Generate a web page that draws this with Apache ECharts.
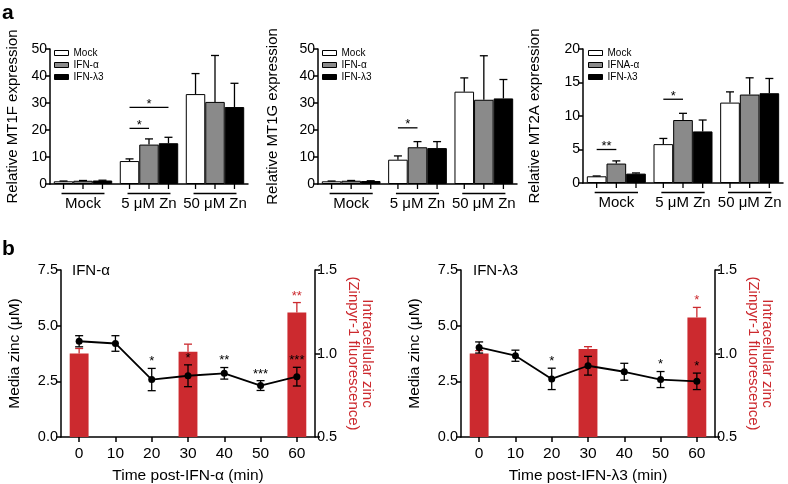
<!DOCTYPE html>
<html><head><meta charset="utf-8">
<script src="https://cdn.jsdelivr.net/npm/echarts@6/dist/echarts.min.js"></script>
<style>html,body{margin:0;padding:0;background:#fff}#c{width:788px;height:484px}</style>
</head><body><div id="c"></div>
<script>
// ---------- DATA ----------
const groupLabels = ['Mock', '5 μM Zn', '50 μM Zn'];
const legendA12 = ['Mock', 'IFN-α', 'IFN-λ3'];
const legendA3 = ['Mock', 'IFNA-α', 'IFN-λ3'];
const mtYTicks = [0, 10, 20, 30, 40, 50];
const mt2aYTicks = [0, 5, 10, 15, 20];

const mt1fMock = [1.0, 8.5, 33.3];
const mt1fMockErr = [0.1, 0.8, 7.6];
const mt1fIfna = [1.2, 14.6, 30.4];
const mt1fIfnaErr = [0.1, 2.1, 17.2];
const mt1fL3 = [1.3, 15.1, 28.5];
const mt1fL3Err = [0.1, 2.2, 8.8];
const mt1fSig = [{group: 1, from: 0, to: 2, level: 28.4, text: '*'}, {group: 1, from: 0, to: 1, level: 20.6, text: '*'}];

const mt1gMock = [1.0, 9.0, 34.2];
const mt1gMockErr = [0.1, 1.4, 5.1];
const mt1gIfna = [1.2, 13.6, 31.2];
const mt1gIfnaErr = [0.1, 2.1, 16.3];
const mt1gL3 = [1.1, 13.3, 31.7];
const mt1gL3Err = [0.1, 2.4, 7.0];
const mt1gSig = [{group: 1, from: 0, to: 1, level: 20.8, text: '*'}];

const mt2aMock = [1.0, 5.8, 12.0];
const mt2aMockErr = [0.05, 0.85, 1.6];
const mt2aIfna = [2.9, 9.4, 13.2];
const mt2aIfnaErr = [0.4, 1.0, 2.5];
const mt2aL3 = [1.4, 7.7, 13.4];
const mt2aL3Err = [0.1, 1.7, 2.2];
const mt2aSig = [{group: 0, from: 0, to: 1, level: 5.0, text: '**'}, {group: 1, from: 0, to: 1, level: 12.5, text: '*'}];

const timeLabels = ['0', '10', '20', '30', '40', '50', '60'];
const zincTicks = [0, 2.5, 5.0, 7.5];
const fluorTicks = [0.5, 1.0, 1.5];

const alphaZinc = [4.30, 4.20, 2.58, 2.75, 2.86, 2.31, 2.71];
const alphaZincErr = [0.25, 0.35, 0.50, 0.49, 0.26, 0.22, 0.42];
const alphaZincSig = ['', '', '*', '*', '**', '***', '***'];
const alphaFluor = [1.00, null, null, 1.01, null, null, 1.245];
const alphaFluorErr = [0.03, null, null, 0.046, null, null, 0.06];
const alphaFluorSig = ['', '', '', '', '', '', '**'];

const l3Zinc = [4.02, 3.65, 2.61, 3.20, 2.93, 2.58, 2.50];
const l3ZincErr = [0.25, 0.25, 0.48, 0.42, 0.38, 0.36, 0.37];
const l3ZincSig = ['', '', '*', '', '', '*', '*'];
const l3Fluor = [1.00, null, null, 1.027, null, null, 1.216];
const l3FluorErr = [0.017, null, null, 0.014, null, null, 0.06];
const l3FluorSig = ['', '', '', '', '', '', '*'];

// ---------- STYLE ----------
const FONT = '"Liberation Sans", Arial, Helvetica, sans-serif';
const RED = '#cc2a2f';
const FILLS = ['#ffffff', '#8a8a8a', '#000000'];
const BAR_FRAC = 0.295;
const AXLINE = {show: true, onZero: false, lineStyle: {color: '#000', width: 1.5}};
const AXTICK = {show: true, length: 5, lineStyle: {color: '#000', width: 1.5}};

const chart = echarts.init(document.getElementById('c'), null, {renderer: 'canvas'});

const grids = [], xAxes = [], yAxes = [], series = [], legends = [];

function starY(px, fs) { return px + 0.22 * fs; }

function barErrRender(params, api) {
  const cat = api.value(0), k = api.value(1), v = api.value(2), e = api.value(3);
  const band = api.size([1, 0])[0];
  const bw = band * BAR_FRAC;
  const base = api.coord([cat, 0]);
  const cx = base[0] + (k - 1) * bw;
  const yv = api.coord([cat, v])[1];
  const yt = api.coord([cat, v + e])[1];
  const st = {stroke: '#000', lineWidth: 1.3};
  return {type: 'group', children: [
    {type: 'line', shape: {x1: cx, y1: yv, x2: cx, y2: yt}, style: st},
    {type: 'line', shape: {x1: cx - 4, y1: yt, x2: cx + 4, y2: yt}, style: st},
    {type: 'line', shape: {x1: cx, y1: base[1], x2: cx, y2: base[1] + 5}, style: st}
  ]};
}
function underlineRender(params, api) {
  const cat = api.value(0);
  const band = api.size([1, 0])[0];
  const bw = band * BAR_FRAC;
  const base = api.coord([cat, 0]);
  const y = base[1] + 9.5;
  return {type: 'line', shape: {x1: base[0] - bw - 2, y1: y, x2: base[0] + bw + 2, y2: y},
    style: {stroke: '#000', lineWidth: 1.3}};
}
function bracketRender(sigs) {
  return function (params, api) {
    const s = sigs[params.dataIndex];
    const band = api.size([1, 0])[0];
    const bw = band * BAR_FRAC;
    const c = api.coord([s.group, s.level]);
    const x1 = c[0] + (s.from - 1) * bw, x2 = c[0] + (s.to - 1) * bw;
    return {type: 'group', children: [
      {type: 'line', shape: {x1: x1, y1: c[1], x2: x2, y2: c[1]}, style: {stroke: '#000', lineWidth: 1.3}},
      {type: 'text', x: (x1 + x2) / 2, y: starY(c[1] - 6, 13),
        style: {text: s.text, fill: '#000', font: '13px ' + FONT, align: 'center', verticalAlign: 'middle'}}
    ]};
  };
}

function aPanel(i, gridPos, yName, nameGap, names, vals, errs, ticks, sigs, legendPos) {
  grids.push(Object.assign({outerBoundsMode: 'none', containLabel: false}, gridPos));
  xAxes.push({type: 'category', gridIndex: i, data: groupLabels,
    axisLine: AXLINE, axisTick: {show: false},
    axisLabel: {color: '#000', fontSize: 15, margin: 12, interval: 0, fontFamily: FONT},
    splitLine: {show: false}});
  yAxes.push({type: 'value', gridIndex: i, min: ticks[0], max: ticks[ticks.length - 1], interval: ticks[1] - ticks[0],
    axisLine: AXLINE, axisTick: AXTICK,
    axisLabel: {color: '#000', fontSize: 14, margin: 3, fontFamily: FONT},
    splitLine: {show: false},
    name: yName, nameLocation: 'middle', nameGap: nameGap,
    nameTextStyle: {color: '#000', fontSize: 15, fontFamily: FONT}});
  const yi = yAxes.length - 1;
  const errData = [];
  for (let k = 0; k < 3; k++) {
    series.push({type: 'bar', name: names[k], xAxisIndex: i, yAxisIndex: yi, data: vals[k],
      barWidth: (BAR_FRAC * 100) + '%', barGap: '0%',
      itemStyle: {color: FILLS[k], borderColor: '#000', borderWidth: 1}, z: 2});
    vals[k].forEach((v, c) => errData.push([c, k, v, errs[k][c]]));
  }
  series.push({type: 'custom', xAxisIndex: i, yAxisIndex: yi, renderItem: barErrRender,
    data: errData, encode: {x: 0, y: 2}, z: 3, silent: true});
  series.push({type: 'custom', xAxisIndex: i, yAxisIndex: yi, renderItem: underlineRender,
    data: groupLabels.map((g, c) => [c, 0]), encode: {x: 0, y: 1}, z: 3, silent: true});
  series.push({type: 'custom', xAxisIndex: i, yAxisIndex: yi, renderItem: bracketRender(sigs),
    data: sigs.map(s => [s.group, s.level]), encode: {x: 0, y: 1}, z: 4, silent: true});
  legends.push(Object.assign({orient: 'vertical', padding: 0, itemWidth: 14, itemHeight: 5, itemGap: 2,
    icon: 'rect', selectedMode: false,
    textStyle: {fontSize: 10, lineHeight: 5, color: '#000', fontFamily: FONT},
    data: names.map((n, k) => ({name: n, itemStyle: {color: FILLS[k], borderColor: '#000', borderWidth: 1}}))
  }, legendPos));
}

function symErrRender(color) {
  return function (params, api) {
    const c = api.value(0), v = api.value(1), e = api.value(2);
    const x = api.coord([c, v])[0];
    const yt = api.coord([c, v + e])[1], yb = api.coord([c, v - e])[1];
    const st = {stroke: color, lineWidth: 1.3};
    return {type: 'group', children: [
      {type: 'line', shape: {x1: x, y1: yb, x2: x, y2: yt}, style: st},
      {type: 'line', shape: {x1: x - 4, y1: yt, x2: x + 4, y2: yt}, style: st},
      {type: 'line', shape: {x1: x - 4, y1: yb, x2: x + 4, y2: yb}, style: st}
    ]};
  };
}
function upErrRender(color) {
  return function (params, api) {
    const c = api.value(0), v = api.value(1), e = api.value(2);
    const p = api.coord([c, v]);
    const yt = api.coord([c, v + e])[1];
    const st = {stroke: color, lineWidth: 1.3};
    return {type: 'group', children: [
      {type: 'line', shape: {x1: p[0], y1: p[1], x2: p[0], y2: yt}, style: st},
      {type: 'line', shape: {x1: p[0] - 4, y1: yt, x2: p[0] + 4, y2: yt}, style: st}
    ]};
  };
}
function starRender(color, labels) {
  return function (params, api) {
    const c = api.value(0), top = api.value(1);
    const p = api.coord([c, top]);
    return {type: 'text', x: p[0], y: starY(p[1] - 9.5, 13),
      style: {text: labels[c], fill: color, font: '13px ' + FONT, align: 'center', verticalAlign: 'middle'}};
  };
}

function bPanel(gridPos, xName, zinc, zincErr, zincSig, fluor, fluorErr, fluorSig) {
  grids.push(Object.assign({outerBoundsMode: 'none', containLabel: false}, gridPos));
  const gi = grids.length - 1;
  xAxes.push({type: 'category', gridIndex: gi, data: timeLabels,
    axisLine: AXLINE, axisTick: Object.assign({alignWithLabel: true}, AXTICK),
    axisLabel: {color: '#000', fontSize: 15.5, margin: 9, fontFamily: FONT},
    splitLine: {show: false},
    name: xName, nameLocation: 'middle', nameGap: 31,
    nameTextStyle: {color: '#000', fontSize: 15.5, fontFamily: FONT}});
  const xi = xAxes.length - 1;
  yAxes.push({type: 'value', gridIndex: gi, position: 'left',
    min: zincTicks[0], max: zincTicks[zincTicks.length - 1], interval: zincTicks[1] - zincTicks[0],
    axisLine: AXLINE, axisTick: AXTICK,
    axisLabel: {color: '#000', fontSize: 14.5, margin: 3, fontFamily: FONT, formatter: v => v.toFixed(1)},
    splitLine: {show: false},
    name: 'Media zinc (μM)', nameLocation: 'middle', nameGap: 38,
    nameTextStyle: {color: '#000', fontSize: 15.5, fontFamily: FONT}});
  const yl = yAxes.length - 1;
  yAxes.push({type: 'value', gridIndex: gi, position: 'right',
    min: fluorTicks[0], max: fluorTicks[fluorTicks.length - 1], interval: fluorTicks[1] - fluorTicks[0],
    axisLine: AXLINE, axisTick: AXTICK,
    axisLabel: {color: '#000', fontSize: 14.5, margin: 2, fontFamily: FONT, formatter: v => v.toFixed(1)},
    splitLine: {show: false},
    name: 'Intracellular zinc\n(Zinpyr-1 fluorescence)', nameLocation: 'middle', nameGap: 31, nameRotate: -90,
    nameTextStyle: {color: RED, fontSize: 15, lineHeight: 14, fontFamily: FONT}});
  const yr = yAxes.length - 1;

  series.push({type: 'bar', xAxisIndex: xi, yAxisIndex: yr,
    data: fluor.map(v => v === null ? '-' : v), barWidth: '52%',
    itemStyle: {color: RED}, z: 2, silent: true});
  const fErr = [], fTop = [];
  fluor.forEach((v, c) => { if (v !== null) { fErr.push([c, v, fluorErr[c]]); if (fluorSig[c]) fTop.push([c, v + fluorErr[c]]); } });
  series.push({type: 'custom', xAxisIndex: xi, yAxisIndex: yr, renderItem: upErrRender(RED),
    data: fErr, encode: {x: 0, y: 1}, z: 3, silent: true});
  series.push({type: 'custom', xAxisIndex: xi, yAxisIndex: yr, renderItem: starRender(RED, fluorSig),
    data: fTop, encode: {x: 0, y: 1}, z: 6, silent: true});

  series.push({type: 'custom', xAxisIndex: xi, yAxisIndex: yl, renderItem: symErrRender('#000'),
    data: zinc.map((v, c) => [c, v, zincErr[c]]), encode: {x: 0, y: 1}, z: 4, silent: true});
  series.push({type: 'line', xAxisIndex: xi, yAxisIndex: yl, data: zinc,
    symbol: 'circle', symbolSize: 7, itemStyle: {color: '#000'},
    lineStyle: {color: '#000', width: 1.8}, z: 5, silent: true});
  const zTop = [];
  zinc.forEach((v, c) => { if (zincSig[c]) zTop.push([c, v + zincErr[c]]); });
  series.push({type: 'custom', xAxisIndex: xi, yAxisIndex: yl, renderItem: starRender('#000', zincSig),
    data: zTop, encode: {x: 0, y: 1}, z: 6, silent: true});
}

aPanel(0, {left: 50, top: 49, width: 198, height: 135}, 'Relative MT1F expression', 29.5, legendA12,
  [mt1fMock, mt1fIfna, mt1fL3], [mt1fMockErr, mt1fIfnaErr, mt1fL3Err], mtYTicks, mt1fSig, {left: 54, top: 48});
aPanel(1, {left: 318, top: 49, width: 199, height: 135}, 'Relative MT1G expression', 37.5, legendA12,
  [mt1gMock, mt1gIfna, mt1gL3], [mt1gMockErr, mt1gIfnaErr, mt1gL3Err], mtYTicks, mt1gSig, {left: 322, top: 48});
aPanel(2, {left: 583, top: 49, width: 200, height: 134}, 'Relative MT2A expression', 40.5, legendA3,
  [mt2aMock, mt2aIfna, mt2aL3], [mt2aMockErr, mt2aIfnaErr, mt2aL3Err], mt2aYTicks, mt2aSig, {left: 588, top: 48});

bPanel({left: 61, top: 270, width: 254, height: 167}, 'Time post-IFN-α (min)',
  alphaZinc, alphaZincErr, alphaZincSig, alphaFluor, alphaFluorErr, alphaFluorSig);
bPanel({left: 461, top: 270, width: 254, height: 167}, 'Time post-IFN-λ3 (min)',
  l3Zinc, l3ZincErr, l3ZincSig, l3Fluor, l3FluorErr, l3FluorSig);

const graphic = [
  {type: 'text', left: 2, top: 3, style: {text: 'a', font: 'bold 21px ' + FONT, fill: '#000'}},
  {type: 'text', left: 2, top: 239, style: {text: 'b', font: 'bold 21px ' + FONT, fill: '#000'}},
  {type: 'text', left: 72, top: 263, style: {text: 'IFN-α', font: '15px ' + FONT, fill: '#000'}},
  {type: 'text', left: 473, top: 263, style: {text: 'IFN-λ3', font: '15px ' + FONT, fill: '#000'}}
];

chart.setOption({
  animation: false,
  backgroundColor: '#fff',
  textStyle: {fontFamily: FONT},
  grid: grids, xAxis: xAxes, yAxis: yAxes, legend: legends, series: series, graphic: graphic
});
</script></body></html>
